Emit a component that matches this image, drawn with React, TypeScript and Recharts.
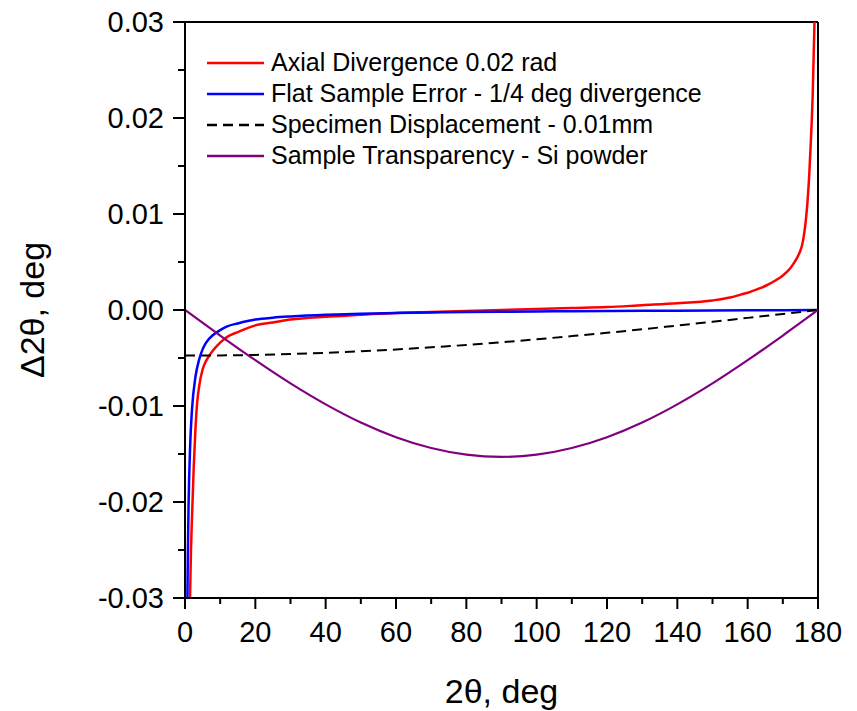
import React from 'react';
import { LineChart, Line, XAxis, YAxis, Legend, ReferenceLine } from 'recharts';

// ---- data ----
const axialX = [1.2, 1.4, 1.7, 2, 2.5, 3, 3.5, 4, 5, 6, 7, 8, 10, 12, 15, 20, 25, 30, 40, 50, 60, 70, 80, 90, 100, 110, 120, 130, 140, 150, 155, 158, 160, 163, 165, 168, 170, 172, 173, 174, 175, 175.5, 176, 176.5, 177, 177.5, 178, 178.5, 179, 179.2];
const axialY = [-0.036, -0.0305, -0.025, -0.0215, -0.0162, -0.0122, -0.0095, -0.008, -0.0062, -0.0053, -0.0047, -0.0042, -0.0034, -0.0028, -0.0023, -0.0016, -0.0013, -0.001, -0.0007, -0.0005, -0.0003, -0.0002, -0.0001, 0, 0.0001, 0.0002, 0.0003, 0.0005, 0.0007, 0.001, 0.0013, 0.0016, 0.0018, 0.0022, 0.0025, 0.0031, 0.0036, 0.0043, 0.0048, 0.0054, 0.0062, 0.0068, 0.0078, 0.0092, 0.0112, 0.014, 0.0178, 0.0225, 0.03, 0.0345];

const flatX = [0.6, 0.7, 0.8, 1, 1.5, 2, 3, 4, 5, 6, 8, 10, 12, 15, 20, 25, 30, 40, 50, 60, 70, 80, 90, 100, 110, 120, 130, 140, 150, 160, 170, 180];
const flatY = [-0.0344, -0.0295, -0.0258, -0.0206, -0.0138, -0.0103, -0.0069, -0.0052, -0.0041, -0.0034, -0.0026, -0.0021, -0.0017, -0.0014, -0.001, -0.0008, -0.00067, -0.00049, -0.00039, -0.00031, -0.00026, -0.00021, -0.00018, -0.00015, -0.00013, -0.0001, -0.00008, -0.00007, -0.00005, -0.00003, -0.00002, 0];

const dispX = [0, 10, 20, 30, 40, 50, 60, 70, 80, 90, 100, 110, 120, 130, 140, 150, 160, 170, 180];
const dispY = [-0.00475, -0.00473, -0.00468, -0.00459, -0.00446, -0.0043, -0.00411, -0.00389, -0.00364, -0.00336, -0.00305, -0.00272, -0.00238, -0.00201, -0.00162, -0.00123, -0.00082, -0.00041, 0];

const transX = [0, 10, 20, 30, 40, 50, 60, 70, 80, 90, 100, 110, 120, 130, 140, 150, 160, 170, 180];
const transY = [0, -0.00266, -0.00523, -0.00765, -0.00983, -0.01172, -0.01325, -0.01438, -0.01507, -0.0153, -0.01507, -0.01438, -0.01325, -0.01172, -0.00983, -0.00765, -0.00523, -0.00266, 0];

const seriesNames = [
  'Axial Divergence 0.02 rad',
  'Flat Sample Error - 1/4 deg divergence',
  'Specimen Displacement - 0.01mm',
  'Sample Transparency - Si powder',
];

const xTicks = [0, 10, 20, 30, 40, 50, 60, 70, 80, 90, 100, 110, 120, 130, 140, 150, 160, 170, 180];
const yTicks = [-0.03, -0.025, -0.02, -0.015, -0.01, -0.005, 0, 0.005, 0.01, 0.015, 0.02, 0.025, 0.03];

const xTitle = '2θ, deg';
const yTitle = 'Δ2θ, deg';

// ---- presentation ----
const FONT = '"Liberation Sans", Arial, Helvetica, sans-serif';
const COLORS = ['#ff0000', '#0000ff', '#000000', '#800080'];
const DASHES = [undefined, undefined, '10 6', undefined];
const WIDTHS = [2.5, 2.5, 2, 2.2];

const toPoints = (xs: number[], ys: number[]) => xs.map((x, i) => ({ x, y: ys[i] }));
const seriesData = [
  toPoints(axialX, axialY),
  toPoints(flatX, flatY),
  toPoints(dispX, dispY),
  toPoints(transX, transY),
];

const XTick = (props: any) => {
  const { x, y, payload } = props;
  const v = payload.value;
  const major = Math.round(v) % 20 === 0;
  return (
    <g>
      <line x1={x} x2={x} y1={y} y2={y + (major ? 11 : 6)} stroke="#000" strokeWidth={2} />
      {major && (
        <text x={x} y={y + 44} textAnchor="middle" fontSize={29} fontFamily={FONT} fill="#000">
          {v}
        </text>
      )}
    </g>
  );
};

const YTick = (props: any) => {
  const { x, y, payload } = props;
  const v = payload.value as number;
  const major = Math.abs(v * 100 - Math.round(v * 100)) < 1e-6;
  return (
    <g>
      <line x1={x} x2={x - (major ? 12 : 7)} y1={y} y2={y} stroke="#000" strokeWidth={2} />
      {major && (
        <text x={x - 21} y={y + 10} textAnchor="end" fontSize={29} fontFamily={FONT} fill="#000">
          {v.toFixed(2)}
        </text>
      )}
    </g>
  );
};

const XTitle = (props: any) => {
  const vb = props.viewBox || { x: 185, width: 633, y: 598 };
  const cx = vb.x + vb.width / 2;
  return (
    <text x={cx} y={vb.y + 105} textAnchor="middle" fontSize={34} fontFamily={FONT} fill="#000">
      {xTitle}
    </text>
  );
};

const YTitle = (props: any) => {
  const vb = props.viewBox || { y: 22, height: 576 };
  const cy = vb.y + vb.height / 2;
  const cx = 44;
  return (
    <text
      x={cx}
      y={cy}
      transform={`rotate(-90, ${cx}, ${cy})`}
      textAnchor="middle"
      fontSize={34}
      fontFamily={FONT}
      fill="#000"
    >
      {yTitle}
    </text>
  );
};

const renderLegend = () => (
  <div style={{ fontFamily: FONT, fontSize: 25, color: '#000' }}>
    {seriesNames.map((name, i) => (
      <div key={name} style={{ display: 'flex', alignItems: 'center', height: 31 }}>
        <svg width={60} height={10} style={{ display: 'block' }}>
          <line x1={2} x2={59} y1={5} y2={5} stroke={COLORS[i]} strokeWidth={2.5} strokeDasharray={DASHES[i]} />
        </svg>
        <span style={{ marginLeft: 6, whiteSpace: 'nowrap', lineHeight: '31px' }}>{name}</span>
      </div>
    ))}
  </div>
);

export default function App() {
  return (
    <div style={{ position: 'fixed', left: 0, top: 0, width: 857, height: 711, background: '#fff' }}>
      <LineChart width={857} height={711} margin={{ top: 22, right: 39, bottom: 0, left: 0 }}>
        <XAxis
          type="number"
          dataKey="x"
          domain={[0, 180]}
          ticks={xTicks}
          interval={0}
          allowDataOverflow
          height={113}
          tickSize={0}
          tickMargin={0}
          tickLine={false}
          axisLine={{ stroke: '#000', strokeWidth: 2 }}
          tick={<XTick />}
          label={<XTitle />}
        />
        <YAxis
          type="number"
          dataKey="y"
          domain={[-0.03, 0.03]}
          ticks={yTicks}
          interval={0}
          allowDataOverflow
          width={185}
          tickSize={0}
          tickMargin={0}
          tickLine={false}
          axisLine={{ stroke: '#000', strokeWidth: 2 }}
          tick={<YTick />}
          label={<YTitle />}
        />
        <ReferenceLine y={0.03} stroke="#000" strokeWidth={2} />
        <ReferenceLine x={180} stroke="#000" strokeWidth={2} />
        {seriesData.map((d, i) => (
          <Line
            key={seriesNames[i]}
            name={seriesNames[i]}
            data={d}
            dataKey="y"
            type="monotone"
            stroke={COLORS[i]}
            strokeWidth={WIDTHS[i]}
            strokeDasharray={DASHES[i]}
            dot={false}
            activeDot={false}
            isAnimationActive={false}
          />
        ))}
        <Legend
          layout="vertical"
          align="center"
          verticalAlign="middle"
          wrapperStyle={{ left: 205, top: 47, width: 560 }}
          content={renderLegend}
        />
      </LineChart>
    </div>
  );
}
